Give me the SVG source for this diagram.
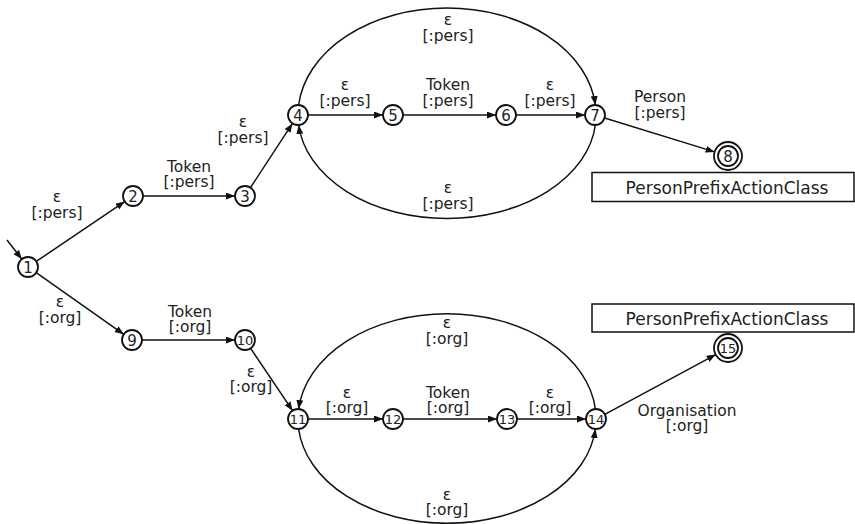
<svg xmlns="http://www.w3.org/2000/svg" width="855" height="524" viewBox="0 0 855 524">
<style>
.n circle{fill:#fff;stroke:#111;stroke-width:1.8}
.n text{font-family:"DejaVu Sans",sans-serif;font-size:15px;fill:#222;text-anchor:middle}
.n text.d{font-size:13px}
.e path,.e line{fill:none;stroke:#111;stroke-width:1.5}
.a{marker-end:url(#arr)}
.l{font-family:"DejaVu Sans",sans-serif;font-size:15.5px;fill:#222;text-anchor:middle}
.box rect{fill:#fff;stroke:#111;stroke-width:1.5}
.box text{font-family:"DejaVu Sans",sans-serif;font-size:17px;fill:#222;text-anchor:middle}
</style>
<defs>
<marker id="arr" markerUnits="userSpaceOnUse" markerWidth="10" markerHeight="8" refX="9" refY="3.5" orient="auto">
<path d="M0,0 L9,3.5 L0,7 z" fill="#111"/>
</marker>
</defs>
<rect width="855" height="524" fill="#fff"/>
<g id="connectors" class="e">
<line class="a" x1="7" y1="240" x2="21.8" y2="259.1"/>
<line class="a" x1="36.3" y1="261.4" x2="124.7" y2="201.6"/>
<line class="a" x1="143" y1="196" x2="235" y2="196"/>
<line class="a" x1="250.5" y1="187.6" x2="292.5" y2="123.4"/>
<line class="a" x1="308" y1="115" x2="383" y2="115"/>
<line class="a" x1="403" y1="115" x2="496" y2="115"/>
<line class="a" x1="516" y1="115" x2="585" y2="115"/>
<path class="a" d="M298.65,105 A149 107 0 0 1 595.35,105"/>
<path class="a" d="M595.35,125 A149 103 0 0 1 298.65,125"/>
<line class="a" x1="604.6" y1="118" x2="714.6" y2="151.9"/>
<line class="a" x1="36.2" y1="272.7" x2="123.8" y2="334.3"/>
<line class="a" x1="142" y1="340" x2="235" y2="340"/>
<line class="a" x1="250.6" y1="348.3" x2="292.6" y2="410.7"/>
<line class="a" x1="308" y1="419" x2="383" y2="419"/>
<line class="a" x1="403" y1="419" x2="497" y2="419"/>
<line class="a" x1="517" y1="419" x2="586" y2="419"/>
<path class="a" d="M595.35,409 A149 105 0 0 0 298.65,409"/>
<path class="a" d="M298.65,429 A149 104 0 0 0 595.35,429"/>
<line class="a" x1="604.8" y1="414.3" x2="715.7" y2="354.6"/>
</g>
<g id="edge-labels">
<text class="l"><tspan x="57" y="202">ε</tspan><tspan x="57" dy="16">[:pers]</tspan></text>
<text class="l"><tspan x="189" y="172">Token</tspan><tspan x="189" dy="15">[:pers]</tspan></text>
<text class="l"><tspan x="243" y="127">ε</tspan><tspan x="243" dy="16">[:pers]</tspan></text>
<text class="l"><tspan x="448" y="25">ε</tspan><tspan x="448" dy="16">[:pers]</tspan></text>
<text class="l"><tspan x="345" y="90">ε</tspan><tspan x="345" dy="16">[:pers]</tspan></text>
<text class="l"><tspan x="448" y="90">Token</tspan><tspan x="448" dy="16">[:pers]</tspan></text>
<text class="l"><tspan x="550" y="90">ε</tspan><tspan x="550" dy="16">[:pers]</tspan></text>
<text class="l"><tspan x="448" y="193">ε</tspan><tspan x="448" dy="16">[:pers]</tspan></text>
<text class="l"><tspan x="660" y="102">Person</tspan><tspan x="660" dy="16">[:pers]</tspan></text>
<text class="l"><tspan x="60" y="307">ε</tspan><tspan x="60" dy="16">[:org]</tspan></text>
<text class="l"><tspan x="190" y="317">Token</tspan><tspan x="190" dy="15">[:org]</tspan></text>
<text class="l"><tspan x="251" y="377">ε</tspan><tspan x="251" dy="15">[:org]</tspan></text>
<text class="l"><tspan x="447" y="328">ε</tspan><tspan x="447" dy="16">[:org]</tspan></text>
<text class="l"><tspan x="347" y="398">ε</tspan><tspan x="347" dy="15">[:org]</tspan></text>
<text class="l"><tspan x="448" y="398">Token</tspan><tspan x="448" dy="15">[:org]</tspan></text>
<text class="l"><tspan x="550" y="398">ε</tspan><tspan x="550" dy="15">[:org]</tspan></text>
<text class="l"><tspan x="447" y="500">ε</tspan><tspan x="447" dy="15">[:org]</tspan></text>
<text class="l"><tspan x="687" y="416">Organisation</tspan><tspan x="687" dy="15">[:org]</tspan></text>
</g>
<g id="node1" class="n"><circle cx="28" cy="267" r="10"/><text x="28" y="272.5">1</text></g>
<g id="node2" class="n"><circle cx="133" cy="196" r="10"/><text x="133" y="201.5">2</text></g>
<g id="node3" class="n"><circle cx="245" cy="196" r="10"/><text x="245" y="201.5">3</text></g>
<g id="node4" class="n"><circle cx="298" cy="115" r="10"/><text x="298" y="120.5">4</text></g>
<g id="node5" class="n"><circle cx="393" cy="115" r="10"/><text x="393" y="120.5">5</text></g>
<g id="node6" class="n"><circle cx="506" cy="115" r="10"/><text x="506" y="120.5">6</text></g>
<g id="node7" class="n"><circle cx="595" cy="115" r="10"/><text x="595" y="120.5">7</text></g>
<g id="node8" class="n"><circle cx="728" cy="156" r="14"/><circle cx="728" cy="156" r="10"/><text x="728" y="161.5">8</text></g>
<g id="node9" class="n"><circle cx="132" cy="340" r="10"/><text x="132" y="345.5">9</text></g>
<g id="node10" class="n"><circle cx="245" cy="340" r="10"/><text class="d" x="245" y="344.7">10</text></g>
<g id="node11" class="n"><circle cx="298" cy="419" r="10"/><text class="d" x="298" y="423.7">11</text></g>
<g id="node12" class="n"><circle cx="393" cy="419" r="10"/><text class="d" x="393" y="423.7">12</text></g>
<g id="node13" class="n"><circle cx="507" cy="419" r="10"/><text class="d" x="507" y="423.7">13</text></g>
<g id="node14" class="n"><circle cx="596" cy="419" r="10"/><text class="d" x="596" y="423.7">14</text></g>
<g id="node15" class="n"><circle cx="728" cy="348" r="14"/><circle cx="728" cy="348" r="10"/><text class="d" x="728" y="352.7">15</text></g>
<g id="box1" class="box"><rect x="592" y="172.5" width="262" height="29"/><text x="727" y="194">PersonPrefixActionClass</text></g>
<g id="box2" class="box"><rect x="592" y="304" width="262" height="28"/><text x="727" y="325">PersonPrefixActionClass</text></g>
</svg>
